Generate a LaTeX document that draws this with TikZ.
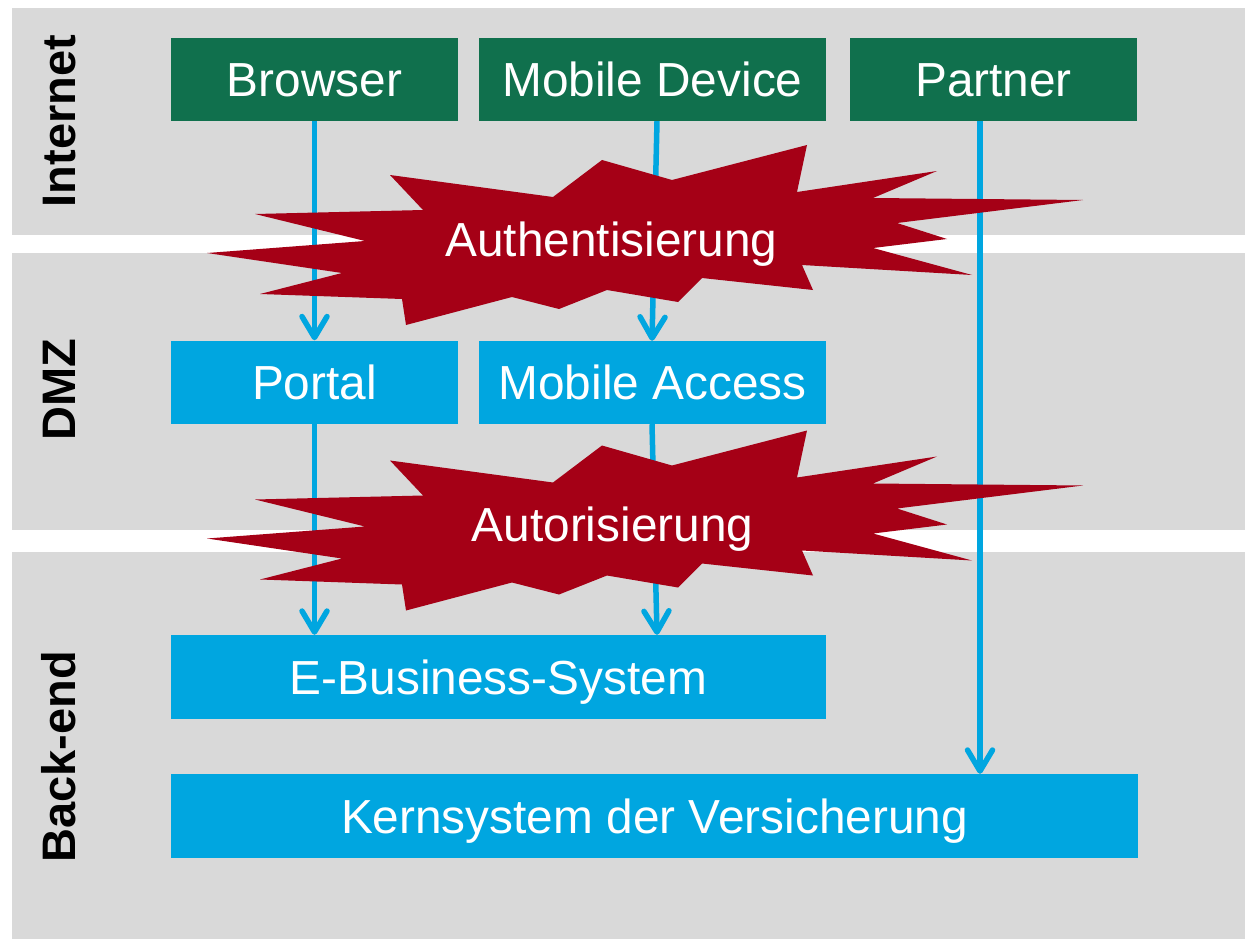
\documentclass[tikz,border=0pt]{standalone}
\usepackage{fontspec}
\setmainfont{Liberation Sans}
\usetikzlibrary{arrows.meta}
\definecolor{bandgray}{HTML}{D9D9D9}
\definecolor{netgreen}{HTML}{10704D}
\definecolor{sysblue}{HTML}{00A6E0}
\definecolor{burstred}{HTML}{A50016}
\tikzset{
  band/.style={fill=bandgray, draw=none},
  boxbase/.style={rectangle, draw=none, inner sep=0pt, text=white,
    font=\fontsize{47.8}{56}\selectfont, text height=34pt, text depth=0pt},
  greenbox/.style={boxbase, fill=netgreen},
  bluebox/.style={boxbase, fill=sysblue},
  zonelabel/.style={rotate=90, inner sep=0pt, font=\fontsize{47}{56}\selectfont\bfseries,
    text height=33.6pt, text depth=0pt},
  flow/.style={draw=sysblue, line width=5.5pt,
    -{Straight Barb[length=21pt,width=25pt,round]}},
  burst/.style={fill=burstred, draw=none},
  burstlabel/.style={inner sep=0pt, text=white, font=\fontsize{47.8}{56}\selectfont,
    text height=34pt, text depth=0pt}
}
\begin{document}
\begin{tikzpicture}[x=1pt,y=-1pt]
\useasboundingbox (0,0) rectangle (1245,939);
\fill[white] (0,0) rectangle (1245,939);
% bands
\fill[band] (12,8) rectangle (1245,235);
\fill[band] (12,253) rectangle (1245,530);
\fill[band] (12,552) rectangle (1245,939);
% zone labels
\node[zonelabel] (zinternet) at (58.5,121) {Internet};
\node[zonelabel] (zdmz) at (58.5,390) {DMZ};
\node[zonelabel] (zbackend) at (58.5,757) {Back-end};
% boxes
\node[greenbox, minimum width=287pt, minimum height=83pt] (browser) at (314.5,79.5) {Browser};
\node[greenbox, minimum width=347pt, minimum height=83pt] (mobdev) at (652.5,79.5) {Mobile Device};
\node[greenbox, minimum width=287pt, minimum height=83pt] (partner) at (993.5,79.5) {Partner};
\node[bluebox, minimum width=287pt, minimum height=83pt] (portal) at (314.5,382) {Portal};
\node[bluebox, minimum width=347pt, minimum height=83pt] (mobacc) at (652.5,382.5) {Mobile Access};
\node[bluebox, minimum width=655pt, minimum height=84pt] (ebiz) at (498.5,677) {E-Business-System};
\node[bluebox, minimum width=967pt, minimum height=84pt] (kern) at (654.5,816) {Kernsystem der Versicherung};
% connectors
\draw[flow] (browser.south) -- (portal.north);
\draw[flow] ([xshift=4.5pt]mobdev.south) -- ([xshift=-0.5pt]mobacc.north);
\draw[flow] ([xshift=-13.5pt]partner.south) -- ([xshift=-13.5pt]partner.south |- kern.north);
\draw[flow] (portal.south) -- (portal.south |- ebiz.north);
\draw[flow] ([xshift=-0.5pt]mobacc.south) -- ([xshift=4.5pt]mobacc.south |- ebiz.north);
% bursts
\foreach \dy in {0,285.5}{
\fill[burst, yshift=-\dy pt] (390,175) -- (423,210) -- (255,214) -- (365,241) -- (207,253)
  -- (342,273) -- (260,294) -- (402,299) -- (406,325) -- (512,297) -- (559,309)
  -- (607,290) -- (678,302) -- (702,278) -- (813,290) -- (802,265) -- (972,275)
  -- (873,248) -- (947,239) -- (897,223) -- (1083,200) -- (873,198) -- (937,171)
  -- (797,192) -- (807,145) -- (672,180) -- (602,160) -- (553,197) -- cycle;
}
\node[burstlabel] (authn) at (611.5,239) {Authentisierung};
\node[burstlabel] (authz) at (612.5,524.5) {Autorisierung};
\end{tikzpicture}
\end{document}
